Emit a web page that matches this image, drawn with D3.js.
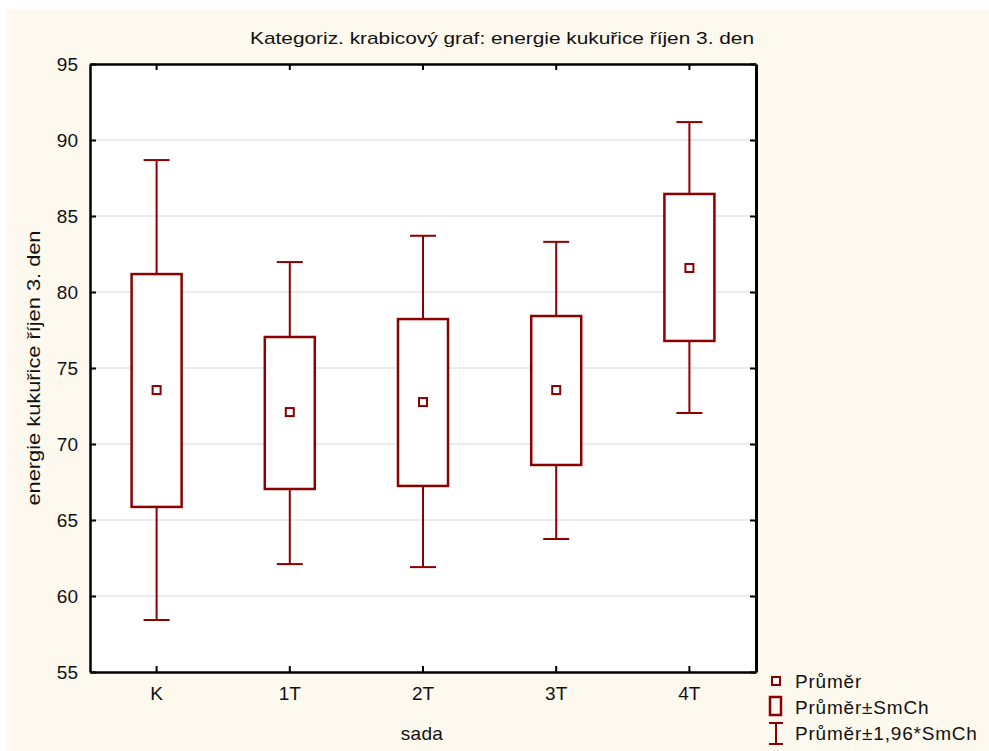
<!DOCTYPE html>
<html>
<head>
<meta charset="utf-8">
<script src="https://cdn.jsdelivr.net/npm/d3@7"></script>
<style>
  body { margin: 0; background: #ffffff; }
  text { font-family: "Liberation Sans", Arial, sans-serif; fill: #111; }
</style>
</head>
<body>
<svg width="989" height="751"></svg>
<script>
// groups on the x axis
var categories = ['K', '1T', '2T', '3T', '4T'];
// mean, mean +/- SE (box), mean +/- 1.96*SE (whiskers)
var means      = [73.55, 72.10, 72.76, 73.55, 81.58];
var boxLow     = [65.86, 67.04, 67.24, 68.62, 76.78];
var boxHigh    = [81.18, 77.04, 78.22, 78.42, 86.45];
var whiskLow   = [58.42, 62.10, 61.90, 63.75, 72.04];
var whiskHigh  = [88.68, 81.97, 83.70, 83.30, 91.18];
var yTicks = [55, 60, 65, 70, 75, 80, 85, 90, 95];
var legendItems = ['Průměr', 'Průměr±SmCh', 'Průměr±1,96*SmCh'];

var dark = '#8b0000';
var svg = d3.select('svg');

// cream backdrop
svg.append('rect').attr('x', 7).attr('y', 9).attr('width', 982).attr('height', 742)
	.attr('fill', '#fdf9ef');

var pLeft = 90, pRight = 756, pTop = 64, pBottom = 672;

var x = d3.scaleBand().domain(categories).range([pLeft, pRight]);
var y = d3.scaleLinear().domain([55, 95]).range([pBottom, pTop]);

svg.append('rect').attr('x', pLeft).attr('y', pTop)
	.attr('width', pRight - pLeft).attr('height', pBottom - pTop).attr('fill', '#fff');

// grid
svg.append('g').selectAll('line')
	.data(yTicks.filter(function(d){ return d > 55 && d < 95 }))
	.enter().append('line')
		.attr('x1', pLeft).attr('x2', pRight)
		.attr('y1', function(d){ return y(d) }).attr('y2', function(d){ return y(d) })
		.attr('stroke', '#d6d6d6').attr('stroke-width', 1);

// axes with inward ticks
var yAxis = svg.append('g').attr('transform', 'translate(' + pLeft + ',0)')
	.call(d3.axisLeft(y).tickValues(yTicks).tickSizeInner(-6).tickSizeOuter(0).tickPadding(12));
var yRight = svg.append('g').attr('transform', 'translate(' + pRight + ',0)')
	.call(d3.axisRight(y).tickValues(yTicks).tickSizeInner(-6).tickSizeOuter(0).tickFormat(''));
var xAxis = svg.append('g').attr('transform', 'translate(0,' + pBottom + ')')
	.call(d3.axisBottom(x).tickSizeInner(-6).tickSizeOuter(0).tickPadding(15));
var xTop = svg.append('g').attr('transform', 'translate(0,' + pTop + ')')
	.call(d3.axisTop(x).tickSizeInner(-6).tickSizeOuter(0).tickFormat(''));

[yAxis, yRight, xAxis, xTop].forEach(function(g){
	g.select('.domain').attr('stroke', '#000').attr('stroke-width', 2.5);
	g.selectAll('.tick line').attr('stroke', '#000').attr('stroke-width', 2);
	g.selectAll('.tick text').attr('font-size', 19).attr('fill', '#111')
		.style('font-family', '"Liberation Sans", Arial, sans-serif');
});
yRight.select('.domain').attr('stroke-width', 3);

// boxes
var idx = d3.range(categories.length);
var g = svg.append('g');
var cx = function(i){ return x(categories[i]) + x.bandwidth() / 2 };
var capW = 26, boxW = 50, m = 8;

g.selectAll('.whisk').data(idx).enter().append('line')
	.attr('x1', cx).attr('x2', cx)
	.attr('y1', function(i){ return y(whiskHigh[i]) }).attr('y2', function(i){ return y(whiskLow[i]) })
	.attr('stroke', dark).attr('stroke-width', 2);
g.selectAll('.capHi').data(idx).enter().append('line')
	.attr('x1', function(i){ return cx(i) - capW/2 }).attr('x2', function(i){ return cx(i) + capW/2 })
	.attr('y1', function(i){ return y(whiskHigh[i]) }).attr('y2', function(i){ return y(whiskHigh[i]) })
	.attr('stroke', dark).attr('stroke-width', 2);
g.selectAll('.capLo').data(idx).enter().append('line')
	.attr('x1', function(i){ return cx(i) - capW/2 }).attr('x2', function(i){ return cx(i) + capW/2 })
	.attr('y1', function(i){ return y(whiskLow[i]) }).attr('y2', function(i){ return y(whiskLow[i]) })
	.attr('stroke', dark).attr('stroke-width', 2);
g.selectAll('.box').data(idx).enter().append('rect')
	.attr('x', function(i){ return cx(i) - boxW/2 })
	.attr('y', function(i){ return y(boxHigh[i]) })
	.attr('width', boxW)
	.attr('height', function(i){ return y(boxLow[i]) - y(boxHigh[i]) })
	.attr('fill', '#fff').attr('stroke', dark).attr('stroke-width', 2.5);
g.selectAll('.mean').data(idx).enter().append('rect')
	.attr('x', function(i){ return cx(i) - m/2 })
	.attr('y', function(i){ return y(means[i]) - m/2 })
	.attr('width', m).attr('height', m)
	.attr('fill', '#fff').attr('stroke', dark).attr('stroke-width', 2);

// titles
svg.append('text').attr('x', 502).attr('y', 44).attr('text-anchor', 'middle')
	.attr('font-size', 17).attr('textLength', 504).attr('lengthAdjust', 'spacingAndGlyphs')
	.text('Kategoriz. krabicový graf: energie kukuřice říjen 3. den');
svg.append('text').attr('x', 422).attr('y', 740).attr('text-anchor', 'middle')
	.attr('font-size', 19).attr('letter-spacing', 0.3).text('sada');
svg.append('text').attr('transform', 'translate(40,368) rotate(-90)').attr('text-anchor', 'middle')
	.attr('font-size', 19).attr('textLength', 275).attr('lengthAdjust', 'spacingAndGlyphs')
	.text('energie kukuřice říjen 3. den');

// legend
var lg = svg.append('g');
lg.append('rect').attr('x', 772).attr('y', 677).attr('width', 8).attr('height', 8)
	.attr('fill', '#fff').attr('stroke', dark).attr('stroke-width', 2);
lg.append('rect').attr('x', 770).attr('y', 697).attr('width', 11).attr('height', 18)
	.attr('fill', 'none').attr('stroke', dark).attr('stroke-width', 2.5);
lg.append('path').attr('d', 'M769,723H783M776,723V744M769,744H783')
	.attr('fill', 'none').attr('stroke', dark).attr('stroke-width', 2);
lg.selectAll('text').data(legendItems).enter().append('text')
	.attr('x', 795).attr('y', function(d, i){ return 688 + i * 26 })
	.attr('font-size', 19).attr('letter-spacing', 0.8).text(function(d){ return d });
</script>
</body>
</html>
